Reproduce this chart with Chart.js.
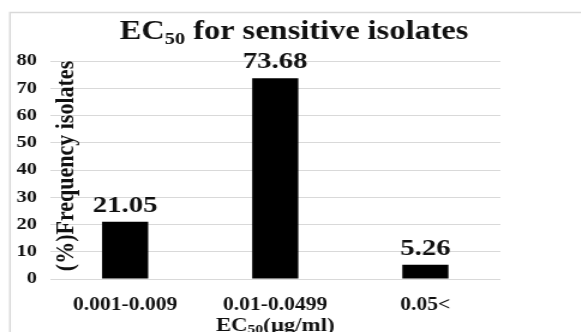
<!DOCTYPE html>
<html>
<head>
<meta charset="utf-8">
<script src="https://cdn.jsdelivr.net/npm/chart.js@4/dist/chart.umd.min.js"></script>
<style>
  html, body { margin: 0; padding: 0; background: #fff; overflow: hidden; }
  /* the chart is laid out narrower and widened horizontally */
  #wrap { width: 484px; height: 332px; transform: scaleX(1.2); transform-origin: 0 0; }
</style>
</head>
<body>
<div id="wrap"><canvas id="c"></canvas></div>
<script>
// EC50 classes of the sensitive isolates and their frequency (%)
const categories = ['0.001-0.009', '0.01-0.0499', '0.05<'];
const frequencies = [21.05, 73.68, 5.26];
const valueLabels = ['21.05', '73.68', '5.26'];
const yMin = 0;
const yMax = 80;
const yStep = 10;

// text pieces: [normal, subscript, normal]
const titleParts = ['EC', '50', ' for sensitive isolates'];
const xTitleParts = ['EC', '50', '(\u00b5g/ml)'];
const yTitle = '(%)Frequency isolates';

const SERIF = '"Liberation Serif", "Times New Roman", serif';
const GRID = '#d9d9d9';
const INK = '#111';

function drawSubscripted(ctx, parts, cx, baseline, size, subSize, subDrop) {
  ctx.save();
  ctx.textBaseline = 'alphabetic';
  ctx.textAlign = 'left';
  const big = 'bold ' + size + 'px ' + SERIF;
  const small = 'bold ' + subSize + 'px ' + SERIF;
  ctx.font = big;
  const w0 = ctx.measureText(parts[0]).width;
  const w2 = ctx.measureText(parts[2]).width;
  ctx.font = small;
  const w1 = ctx.measureText(parts[1]).width;
  let x = cx - (w0 + w1 + w2) / 2;
  ctx.fillStyle = INK;
  ctx.font = big;
  ctx.fillText(parts[0], x, baseline);
  x += w0;
  ctx.font = small;
  ctx.fillText(parts[1], x, baseline + subDrop);
  x += w1;
  ctx.font = big;
  ctx.fillText(parts[2], x, baseline);
  ctx.restore();
}

const decorations = {
  id: 'decorations',
  beforeDraw(chart) {
    const ctx = chart.ctx;
    ctx.save();
    ctx.fillStyle = '#fff';
    ctx.fillRect(0, 0, chart.width, chart.height);
    ctx.strokeStyle = GRID;
    ctx.lineWidth = 1.5;
    ctx.strokeRect(8.3, 12.5, chart.width + 20, chart.height + 20);
    ctx.restore();
  },
  afterDraw(chart) {
    const ctx = chart.ctx;
    const area = chart.chartArea;
    // chart title
    drawSubscripted(ctx, titleParts, 245, 39, 27, 17, 5);
    // x axis title
    drawSubscripted(ctx, xTitleParts, (area.left + area.right) / 2, 331, 19, 13, 2);
    // y axis title, rotated, sitting inside the plot
    ctx.save();
    ctx.translate(55, 166);
    ctx.rotate(-Math.PI / 2);
    ctx.font = 'bold 22px ' + SERIF;
    ctx.fillStyle = INK;
    ctx.textAlign = 'center';
    ctx.textBaseline = 'middle';
    ctx.fillText(yTitle, 0, 0);
    ctx.restore();
  },
  afterDatasetsDraw(chart) {
    const ctx = chart.ctx;
    const meta = chart.getDatasetMeta(0);
    ctx.save();
    ctx.font = 'bold 24px ' + SERIF;
    ctx.fillStyle = INK;
    ctx.textAlign = 'center';
    ctx.textBaseline = 'alphabetic';
    meta.data.forEach((bar, i) => {
      ctx.fillText(valueLabels[i], bar.x, bar.y - 10);
    });
    ctx.restore();
  }
};

new Chart(document.getElementById('c'), {
  type: 'bar',
  data: {
    labels: categories,
    datasets: [{
      data: frequencies,
      backgroundColor: '#000',
      borderWidth: 0,
      barPercentage: 0.307,
      categoryPercentage: 1
    }]
  },
  options: {
    responsive: true,
    maintainAspectRatio: false,
    animation: false,
    layout: { padding: { top: 61, right: 67, left: 0, bottom: 0 } },
    plugins: {
      legend: { display: false },
      title: { display: false },
      tooltip: { enabled: false }
    },
    scales: {
      x: {
        afterFit(s) { s.height = 53; },
        grid: { display: false },
        border: { display: false },
        ticks: {
          padding: 8,
          color: INK,
          font: { family: SERIF, size: 18, weight: 'bold' }
        }
      },
      y: {
        min: yMin,
        max: yMax,
        afterFit(s) { s.width = 41.7; },
        grid: { color: GRID, lineWidth: 1, drawTicks: false },
        border: { display: false },
        ticks: {
          stepSize: yStep,
          padding: 11,
          color: INK,
          font: { family: SERIF, size: 17, weight: 'bold' }
        }
      }
    }
  },
  plugins: [decorations]
});
</script>
</body>
</html>
